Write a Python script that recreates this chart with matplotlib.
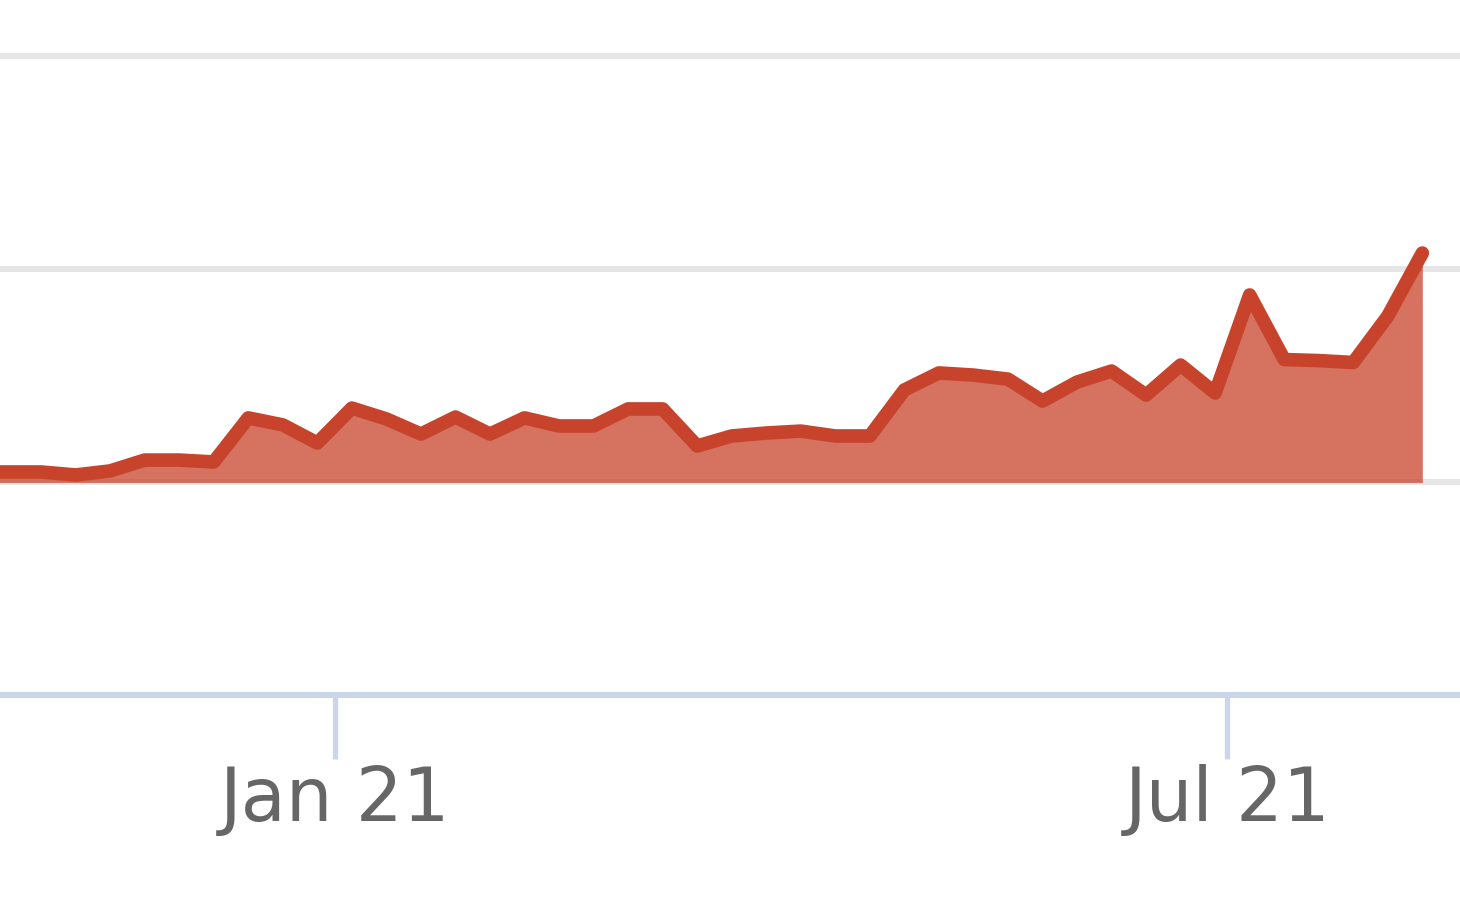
import matplotlib
matplotlib.use("Agg")
import matplotlib.pyplot as plt
import matplotlib.dates as mdates
import pandas as pd

# weekly series (gridlines at 0 / 100 / 200, axis at -100)
dates = pd.date_range("2020-10-19 12:00", periods=43, freq="7D")
values = [
    4.9, 4.9, 4.9, 3.5, 5.4, 10.5, 10.5, 9.6, 30.3, 27.0,
    18.5, 34.9, 29.8, 22.7, 30.7, 22.7, 30.3, 26.5, 26.5, 34.5,
    34.5, 17.1, 21.8, 23.2, 24.1, 21.8, 21.8, 43.4, 51.4, 50.4,
    48.5, 38.2, 47.1, 52.3, 41.0, 55.1, 42.0, 88.0, 57.7, 57.2,
    56.3, 78.1, 107.7,
]
grid_values = [0, 100, 200]
tick_dates = pd.to_datetime(["2021-01-01", "2021-07-01"])

LINE = "#c8432b"
GRID = "#e6e6e6"
AXIS = "#ccd6eb"

fig = plt.figure(figsize=(14.6, 9.07), dpi=100)
ax = fig.add_axes([0, 0.2333, 1, 0.7209])

ax.fill_between(dates, values, 0, color=LINE, alpha=0.75, linewidth=0, zorder=2)
ax.plot(dates, values, color=LINE, linewidth=9.8, solid_capstyle="round",
        solid_joinstyle="round", zorder=3)

# x range: Jan 1 sits at px 334.6, ~4.933 px per day, crop is 1460 px wide
jan1 = mdates.date2num(pd.Timestamp("2021-01-01"))
ax.set_xlim(jan1 - 334.6 / 4.933, jan1 + (1460 - 334.6) / 4.933)
ax.set_ylim(-100, 207)

for g in grid_values:
    ax.axhline(g, color=GRID, linewidth=4.3, zorder=1)

ax.set_xticks(tick_dates)
ax.xaxis.set_major_formatter(mdates.DateFormatter("%b %y"))
ax.tick_params(axis="x", direction="out", length=46, width=3.8, color=AXIS,
               pad=3.5, labelsize=53, labelcolor="#666666")
ax.set_yticks([])

for side in ("top", "left", "right"):
    ax.spines[side].set_visible(False)
ax.spines["bottom"].set_color(AXIS)
ax.spines["bottom"].set_linewidth(4.3)

fig.savefig("out.png", dpi=100)
